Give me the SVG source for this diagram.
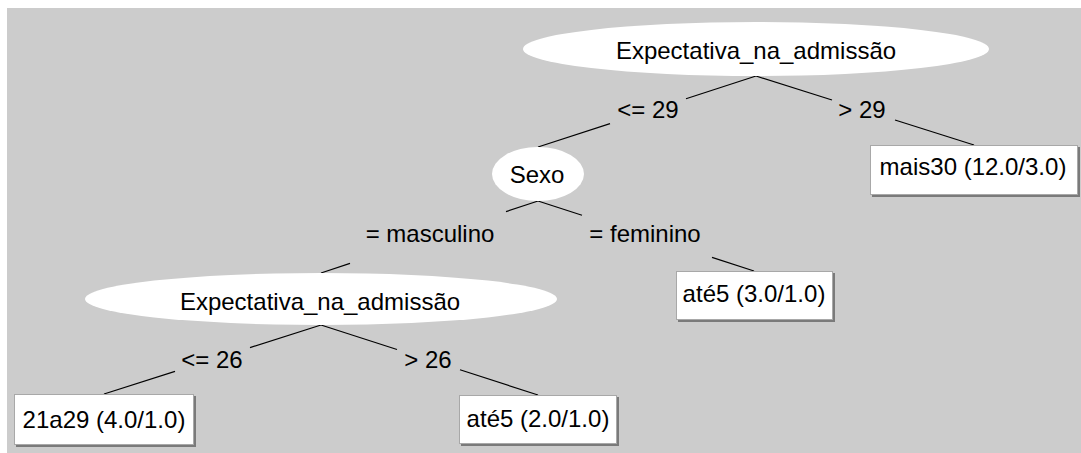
<svg xmlns="http://www.w3.org/2000/svg" width="1081" height="453" viewBox="0 0 1081 453">
<style>
  text { font-family: "Liberation Sans", Arial, sans-serif; font-size: 24px; fill: #000; text-anchor: middle; }
  .oval { fill: #ffffff; stroke: none; }
  .box { fill: #ffffff; stroke: #a8a8a8; stroke-width: 1; }
  .shadow { fill: #7a7a7a; }
  .edge line { stroke: #000; stroke-width: 1.2; }
</style>
<rect x="0" y="0" width="1081" height="453" fill="#ffffff"/>
<rect x="7" y="8" width="1074" height="445" fill="#cccccc"/>

<g id="connectors">
  <g class="edge" id="e-root-sexo">
    <line x1="756" y1="76" x2="686" y2="98.8"/>
    <line x1="610" y1="123.6" x2="538" y2="147"/>
    <text x="648" y="118">&lt;= 29</text>
  </g>
  <g class="edge" id="e-root-mais30">
    <line x1="756" y1="76" x2="832" y2="100"/>
    <line x1="895" y1="120" x2="974" y2="145"/>
    <text x="862" y="118">&gt; 29</text>
  </g>
  <g class="edge" id="e-sexo-exp2">
    <line x1="538" y1="201" x2="506" y2="211.6"/>
    <line x1="350" y1="263.4" x2="321" y2="273"/>
    <text x="430" y="242">= masculino</text>
  </g>
  <g class="edge" id="e-sexo-ate5b">
    <line x1="538" y1="201" x2="582" y2="215.3"/>
    <line x1="712" y1="257.4" x2="754" y2="271"/>
    <text x="645" y="242">= feminino</text>
  </g>
  <g class="edge" id="e-exp2-21a29">
    <line x1="321" y1="325" x2="250" y2="347.6"/>
    <line x1="175" y1="371.4" x2="104" y2="394"/>
    <text x="212" y="368">&lt;= 26</text>
  </g>
  <g class="edge" id="e-exp2-ate5a">
    <line x1="321" y1="325" x2="397" y2="349.5"/>
    <line x1="460" y1="369.8" x2="538" y2="395"/>
    <text x="428" y="368">&gt; 26</text>
  </g>
</g>

<g id="node-root">
  <ellipse class="oval" cx="756" cy="49" rx="233" ry="27"/>
  <text x="756" y="59">Expectativa_na_admissão</text>
</g>

<g id="node-sexo">
  <ellipse class="oval" cx="538" cy="174" rx="46" ry="27"/>
  <text x="537" y="183">Sexo</text>
</g>

<g id="node-exp2">
  <ellipse class="oval" cx="321" cy="299" rx="236" ry="26"/>
  <text x="320" y="310">Expectativa_na_admissão</text>
</g>

<g id="node-mais30">
  <rect class="shadow" x="872" y="147" width="208" height="50"/>
  <rect class="box" x="870.5" y="145.5" width="207" height="49"/>
  <text x="973" y="175">mais30 (12.0/3.0)</text>
</g>

<g id="node-ate5-3">
  <rect class="shadow" x="678" y="273" width="157" height="49"/>
  <rect class="box" x="676.5" y="271.5" width="156" height="48"/>
  <text x="754" y="302">até5 (3.0/1.0)</text>
</g>

<g id="node-21a29">
  <rect class="shadow" x="16" y="396" width="180" height="51"/>
  <rect class="box" x="14.5" y="394.5" width="179" height="50"/>
  <text x="104" y="428">21a29 (4.0/1.0)</text>
</g>

<g id="node-ate5-2">
  <rect class="shadow" x="461" y="397" width="158" height="49"/>
  <rect class="box" x="459.5" y="395.5" width="157" height="48"/>
  <text x="538" y="427">até5 (2.0/1.0)</text>
</g>
</svg>
